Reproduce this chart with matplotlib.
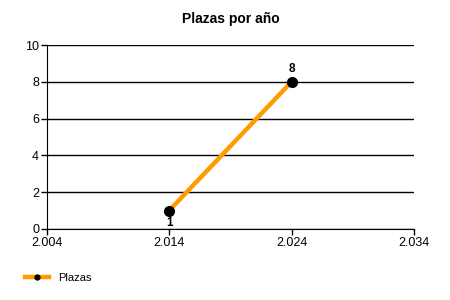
import matplotlib.pyplot as plt

years = [2014, 2024]
plazas = [1, 8]
xticks = [2004, 2014, 2024, 2034]
xticklabels = ['2.004', '2.014', '2.024', '2.034']

plt.rcParams['font.family'] = ['Liberation Sans', 'DejaVu Sans']

fig = plt.figure(figsize=(4.5, 3), dpi=100)
ax = fig.add_axes([0.104, 0.237, 0.816, 0.613])

ax.plot(years, plazas, color='#FF9A00', lw=3.2, marker='o', ms=7,
        mfc='black', mec='black', label='Plazas', zorder=3)

# value labels: first below, last above
ax.annotate(str(plazas[0]), (years[0], plazas[0]), xytext=(0, -9), textcoords='offset points',
            ha='center', va='center', fontsize=8.5, fontweight='bold')
ax.annotate(str(plazas[1]), (years[1], plazas[1]), xytext=(0, 9), textcoords='offset points',
            ha='center', va='center', fontsize=8.5, fontweight='bold')

ax.set_xlim(2004, 2034)
ax.set_ylim(0, 10)
ax.set_xticks(xticks)
ax.set_xticklabels(xticklabels)
ax.set_yticks(range(0, 11, 2))
ax.yaxis.grid(True, color='black', lw=1)
ax.set_axisbelow(True)
ax.tick_params(labelsize=9, length=4, width=1, pad=1.5)
for s in ['top', 'right']:
    ax.spines[s].set_visible(False)

ax.set_title('Plazas por año', fontsize=10, fontweight='bold', pad=16)

fig.legend(loc='lower left', bbox_to_anchor=(0.03, 0.02), frameon=False, fontsize=8,
           handlelength=2.2, markerscale=0.5, borderaxespad=0.6)

fig.savefig('out.png')
